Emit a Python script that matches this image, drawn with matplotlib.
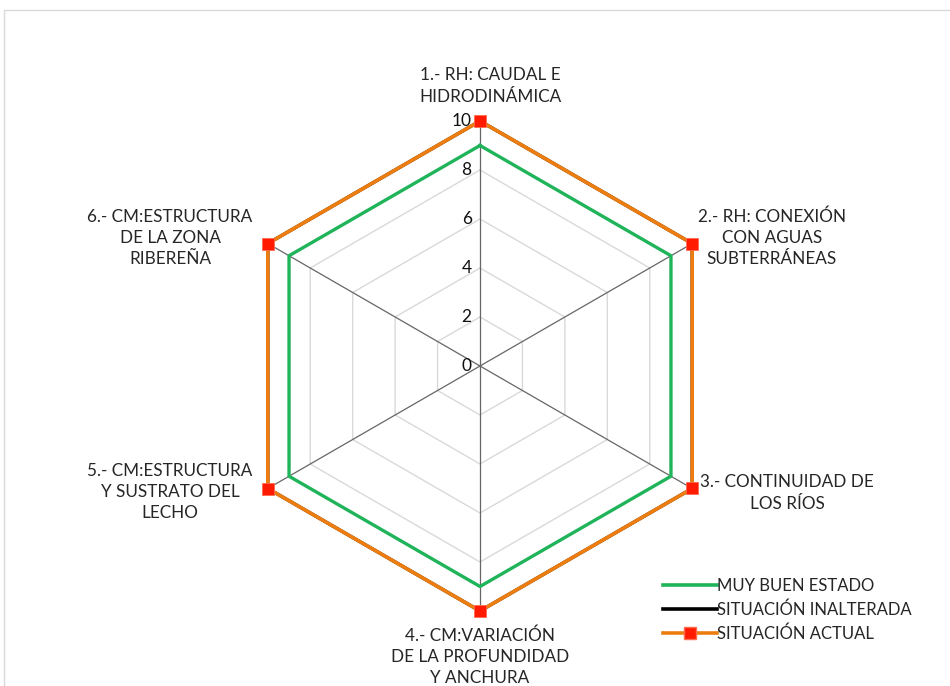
import numpy as np
import matplotlib.pyplot as plt
from matplotlib.patches import Rectangle
from matplotlib.lines import Line2D

categories = ['1.- RH: CAUDAL E\nHIDRODINÁMICA',
              '2.- RH: CONEXIÓN\nCON AGUAS\nSUBTERRÁNEAS',
              '3.- CONTINUIDAD DE\nLOS RÍOS',
              '4.- CM:VARIACIÓN\nDE LA PROFUNDIDAD\nY ANCHURA',
              '5.- CM:ESTRUCTURA\nY SUSTRATO DEL\nLECHO',
              '6.- CM:ESTRUCTURA\nDE LA ZONA\nRIBEREÑA']
muy_buen_estado = [9, 9, 9, 9, 9, 9]
situacion_inalterada = [10, 10, 10, 10, 10, 10]
situacion_actual = [10, 10, 10, 10, 10, 10]
r_ticks = [0, 2, 4, 6, 8, 10]

plt.rcParams['font.family'] = ['Lato', 'DejaVu Sans']

fig = plt.figure(figsize=(9.5, 6.86), dpi=100)
# marco del gráfico
fig.patches.append(Rectangle((4 / 950, -0.1), 1.2, 1 - 10 / 686 + 0.1,
                             transform=fig.transFigure, fill=False,
                             edgecolor='#d9d9d9', lw=1))

cx, cy, rad = 480 / 950, 1 - 366 / 686, 245
ax = fig.add_axes([cx - rad / 950, cy - rad / 686, 2 * rad / 950, 2 * rad / 686],
                  projection='polar')
ax.set_theta_zero_location('N')
ax.set_theta_direction(-1)
ax.set_ylim(0, 10)
ax.axis('off')

n = len(categories)
ang = np.linspace(0, 2 * np.pi, n, endpoint=False)
ang_c = np.append(ang, ang[0])

def closed(v):
    return np.append(v, v[0])

# rejilla hexagonal
for t in r_ticks[1:-1]:
    ax.plot(ang_c, [t] * (n + 1), color='#d9d9d9', lw=1, zorder=1)
for a in ang:
    ax.plot([a, a], [0, 10], color='#666666', lw=0.9, zorder=2)

# etiquetas del eje radial
for t in r_ticks:
    ax.annotate(str(t), xy=(0, t), xytext=(-6, 0), textcoords='offset points',
                ha='right', va='center', fontsize=12.5, color='#111111')

ax.plot(ang_c, closed(muy_buen_estado), color='#1fb45a', lw=2.4, zorder=3,
        clip_on=False)
ax.plot(ang_c, closed(situacion_inalterada), color='#000000', lw=2.4, zorder=4,
        clip_on=False)
ax.plot(ang_c, closed(situacion_actual), color='#ee7d10', lw=2.6, zorder=5,
        clip_on=False)
ax.plot(ang, situacion_actual, ls='none', marker='s', markersize=8.5,
        markerfacecolor='#ff1a00', markeredgecolor='#ff6a50',
        markeredgewidth=0.6, zorder=6, clip_on=False)

# etiquetas de categorías (posiciones en px)
label_pos = [(490, 86), (772, 238), (787, 493),
             (480, 657), (170, 492), (170, 238)]
for lab, (x, y) in zip(categories, label_pos):
    fig.text(x / 950, 1 - y / 686, lab, ha='center', va='center', fontsize=12.3,
             color='#262626', linespacing=1.4)

handles = [Line2D([], [], color='#1fb45a', lw=2.6),
           Line2D([], [], color='#000000', lw=2.6),
           Line2D([], [], color='#ee7d10', lw=2.6, marker='s', markersize=8,
                  markerfacecolor='#ff1a00', markeredgecolor='#ff6a50')]
fig.legend(handles, ['MUY BUEN ESTADO', 'SITUACIÓN INALTERADA', 'SITUACIÓN ACTUAL'],
           loc='upper left', bbox_to_anchor=(655 / 950, 1 - 570 / 686),
           frameon=False, fontsize=12, handlelength=3.2, handletextpad=0.0,
           labelspacing=0.45, borderpad=0, labelcolor='#262626')

fig.savefig('out.png', dpi=100)
